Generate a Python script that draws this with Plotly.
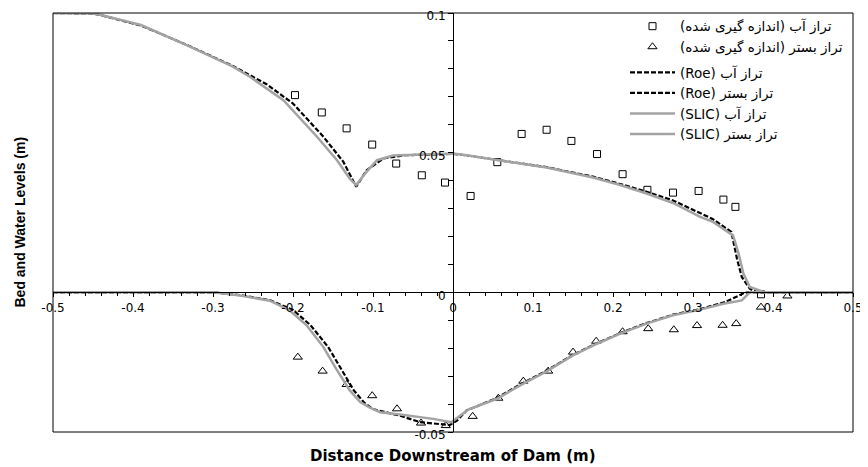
import plotly.graph_objects as go

# ---- measured data ----
meas_water_x = [-0.1975, -0.164, -0.133, -0.101, -0.071, -0.039, -0.010, 0.022, 0.0554, 0.0858,
                0.117, 0.148, 0.180, 0.212, 0.243, 0.275, 0.307, 0.338, 0.353, 0.385]
meas_water_y = [0.0706, 0.0644, 0.0587, 0.0529, 0.0461, 0.0419, 0.0393, 0.0345, 0.0466, 0.0567,
                0.0582, 0.0542, 0.0495, 0.0423, 0.0367, 0.0357, 0.0363, 0.0332, 0.0306, -0.0007]

meas_bed_x = [-0.194, -0.163, -0.133, -0.101, -0.070, -0.040, -0.009, 0.0246, 0.0567, 0.0879,
              0.119, 0.150, 0.179, 0.212, 0.244, 0.276, 0.305, 0.337, 0.354, 0.385, 0.418]
meas_bed_y = [-0.0232, -0.0282, -0.0330, -0.0370, -0.0417, -0.0468, -0.0477, -0.0444, -0.0379, -0.0318,
              -0.0282, -0.0214, -0.0175, -0.0141, -0.0130, -0.0134, -0.0119, -0.0118, -0.0112, -0.0053, -0.0013]

# ---- Roe scheme ----
roe_water_x = [-0.5, -0.45, -0.44, -0.39, -0.333, -0.275, -0.233, -0.2, -0.162, -0.137, -0.121, -0.108,
               -0.087, -0.06, -0.025, 0, 0.017, 0.055, 0.084, 0.117, 0.146, 0.175, 0.209, 0.242, 0.275,
               0.309, 0.325, 0.348, 0.355, 0.361, 0.371, 0.38, 0.5]
roe_water_y = [0.1, 0.0998, 0.0992, 0.0955, 0.0886, 0.0810, 0.0745, 0.0676, 0.0557, 0.0467, 0.0378, 0.0437,
               0.0479, 0.0491, 0.0493, 0.0496, 0.0490, 0.0473, 0.0462, 0.0448, 0.0431, 0.0414, 0.0388, 0.0360,
               0.0329, 0.0282, 0.0262, 0.0216, 0.0120, 0.0055, 0.0013, 0.0, 0.0]

roe_bed_x = [-0.5, -0.3, -0.266, -0.229, -0.2, -0.178, -0.156, -0.14, -0.124, -0.111, -0.1, -0.066,
             -0.041, -0.004, 0.005, 0.017, 0.055, 0.084, 0.117, 0.150, 0.180, 0.209, 0.242, 0.275, 0.309,
             0.340, 0.352, 0.365, 0.375, 0.5]
roe_bed_y = [0, 0, -0.0010, -0.0028, -0.0063, -0.0118, -0.0196, -0.0274, -0.0351, -0.0395, -0.0418, -0.0442,
             -0.0465, -0.0475, -0.0459, -0.0423, -0.0378, -0.0330, -0.0280, -0.0224, -0.0182, -0.0146, -0.0110,
             -0.0080, -0.0060, -0.0035, -0.0020, -0.0001, 0.0, 0.0]

# ---- SLIC scheme ----
slic_water_x = [-0.5, -0.45, -0.44, -0.39, -0.333, -0.275, -0.254, -0.212, -0.17, -0.145, -0.129, -0.121,
                -0.110, -0.095, -0.075, -0.025, 0, 0.017, 0.055, 0.084, 0.117, 0.146, 0.175, 0.209, 0.242,
                0.275, 0.309, 0.325, 0.350, 0.357, 0.363, 0.371, 0.382, 0.39, 0.5]
slic_water_y = [0.1, 0.0998, 0.0993, 0.0957, 0.0885, 0.0808, 0.0772, 0.0688, 0.0557, 0.0473, 0.0407, 0.0384,
                0.0425, 0.0473, 0.0490, 0.0494, 0.0497, 0.0491, 0.0473, 0.0461, 0.0447, 0.0429, 0.0411, 0.0384,
                0.0354, 0.0320, 0.0270, 0.0252, 0.0204, 0.0139, 0.0067, 0.0019, 0.0007, 0.0, 0.0]

slic_bed_x = [-0.5, -0.3, -0.266, -0.229, -0.204, -0.183, -0.162, -0.146, -0.129, -0.116, -0.104, -0.091,
              -0.066, -0.025, -0.002, 0.019, 0.055, 0.084, 0.117, 0.150, 0.180, 0.209, 0.242, 0.275, 0.309,
              0.338, 0.361, 0.371, 0.5]
slic_bed_y = [0, 0, -0.0011, -0.0030, -0.0065, -0.0118, -0.0196, -0.0274, -0.0351, -0.0393, -0.0413, -0.0429,
              -0.0437, -0.0453, -0.0465, -0.0420, -0.0381, -0.0333, -0.0283, -0.0226, -0.0184, -0.0148, -0.0112,
              -0.0082, -0.0062, -0.0041, -0.0029, 0.0, 0.0]

# ---- labels ----
series_names = [
    "تراز آب (اندازه گیری شده)",
    "تراز بستر (اندازه گیری شده)",
    "(Roe) تراز آب",
    "(Roe) تراز بستر",
    "(SLIC) تراز آب",
    "(SLIC) تراز بستر",
]
x_tick_vals = [-0.5, -0.4, -0.3, -0.2, -0.1, 0, 0.1, 0.2, 0.3, 0.4, 0.5]
x_tick_text = ["-0.5", "-0.4", "-0.3", "-0.2", "-0.1", "0", "0.1", "0.2", "0.3", "0.4", "0.5"]
y_tick_vals = [-0.05, 0, 0.05, 0.1]
y_tick_text = ["-0.05", "0", "0.05", "0.1"]
x_title = "Distance Downstream of Dam (m)"
y_title = "Bed and Water Levels (m)"

GRAY = "#a3a3a3"
fig = go.Figure()
fig.add_trace(go.Scatter(x=meas_water_x, y=meas_water_y, mode="markers", name=series_names[0],
                         legendgroup="m",
                         marker=dict(symbol="square-open", size=7, color="black", line=dict(width=1))))
fig.add_trace(go.Scatter(x=meas_bed_x, y=meas_bed_y, mode="markers", name=series_names[1],
                         legendgroup="m",
                         marker=dict(symbol="triangle-up-open", size=8, color="black", line=dict(width=1))))
fig.add_trace(go.Scatter(x=roe_water_x, y=roe_water_y, mode="lines", name=series_names[2],
                         legendgroup="l",
                         line=dict(color="black", width=2.2, dash="5px,2px")))
fig.add_trace(go.Scatter(x=roe_bed_x, y=roe_bed_y, mode="lines", name=series_names[3],
                         legendgroup="l",
                         line=dict(color="black", width=2.2, dash="5px,2px")))
fig.add_trace(go.Scatter(x=slic_water_x, y=slic_water_y, mode="lines", name=series_names[4],
                         legendgroup="l",
                         line=dict(color=GRAY, width=2.5)))
fig.add_trace(go.Scatter(x=slic_bed_x, y=slic_bed_y, mode="lines", name=series_names[5],
                         legendgroup="l",
                         line=dict(color=GRAY, width=2.5)))

tickfont = dict(family="DejaVu Sans", size=12, color="black")
fig.update_layout(
    width=860, height=459,
    margin=dict(l=45, r=15, t=5, b=35, autoexpand=False),
    paper_bgcolor="white", plot_bgcolor="white",
    font=dict(family="DejaVu Sans", color="black"),
    xaxis=dict(range=[-0.5, 0.5], anchor="free", position=1/3, showline=True, linecolor="black",
               linewidth=1, tickmode="array", tickvals=x_tick_vals, ticktext=x_tick_text,
               ticks="outside", ticklen=4, tickcolor="black", showgrid=False, zeroline=False,
               tickfont=tickfont, automargin=False, ticklabeloverflow="allow",
               minor=dict(ticks="outside", ticklen=3, tickcolor="black", tick0=-0.5, dtick=0.02,
                          showgrid=False)),
    yaxis=dict(range=[-0.05, 0.1], anchor="free", position=0.5, showline=True, linecolor="black",
               linewidth=1, tickmode="array", tickvals=y_tick_vals, ticktext=y_tick_text,
               ticks="outside", ticklen=5, tickcolor="black", showgrid=False, zeroline=False,
               tickfont=tickfont, automargin=False, ticklabeloverflow="allow", ticklabelshift=3,
               minor=dict(ticks="outside", ticklen=5, tickcolor="black", tick0=-0.05, dtick=0.01,
                          showgrid=False)),
    legend=dict(x=0.715, y=1.005, xanchor="left", yanchor="top", bgcolor="rgba(0,0,0,0)",
                font=dict(family="DejaVu Sans", size=13.5, color="black"),
                itemwidth=45, tracegroupgap=5),
    shapes=[dict(type="rect", xref="paper", yref="paper", x0=0, x1=1, y0=0, y1=1,
                 line=dict(color="black", width=1), layer="above")],
    annotations=[
        dict(text="<b>" + x_title + "</b>", xref="paper", yref="paper", x=0.5, y=-0.0573,
             xanchor="center", yanchor="middle", showarrow=False,
             font=dict(family="DejaVu Sans", size=15, color="black")),
        dict(text="<b>" + y_title + "</b>", xref="paper", yref="paper", x=-0.0425, y=0.5,
             xanchor="center", yanchor="middle", showarrow=False, textangle=-90,
             font=dict(family="Liberation Sans", size=14, color="black")),
    ],
)
fig.write_html("out.html")
